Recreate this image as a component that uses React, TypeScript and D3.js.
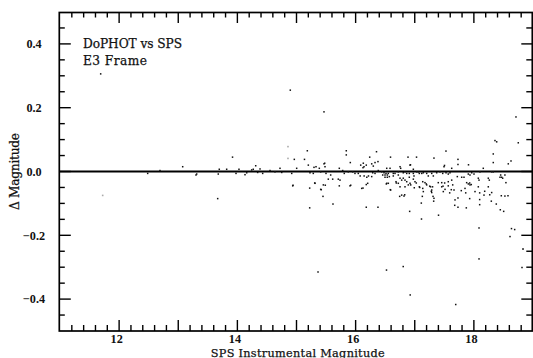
import React from "react";
import * as d3 from "d3";

// SPS instrumental magnitude of each star
const sps = [
  11.688, 14.895, 15.465, 18.712, 18.357, 18.386, 18.751, 18.328, 18.328, 18.628, 18.582, 17.528,
  15.183, 15.842, 15.842, 16.353, 16.886, 17.03, 17.325, 17.731, 17.731, 17.909, 17.503, 16.928,
  16.59, 16.238, 15.91, 15.135, 15.477, 16.378, 16.18, 16.125,
  14.941, 15.308, 15.223, 15.419, 15.487, 15.448, 15.917, 16.125, 16.18, 15.223, 15.617, 16.18,
  16.378, 16.519, 16.586, 16.688, 16.745, 16.83, 16.914, 17.026, 17.084, 17.128, 17.195, 17.253,
  17.28, 17.309, 17.32, 17.111, 17.114, 17.402, 17.478, 17.591, 17.506, 17.676, 17.731, 17.872,
  17.787, 17.862, 17.929, 18.098, 18.183, 18.268, 18.098, 18.098, 18.295, 18.379, 18.447, 18.504,
  18.464, 18.577, 18.087, 18.636, 18.69, 18.611, 18.087, 18.831, 18.814, 15.364, 16.522, 16.805,
  16.923, 17.693, 17.929, 17.956, 17.731, 17.618, 13.667,
  13.075, 13.3, 13.918, 13.694, 13.677, 13.819, 13.977, 14.027, 14.129, 14.31, 14.269, 14.343,
  14.428, 14.552, 14.636, 14.721, 14.75, 14.963, 14.919, 15.003, 14.936, 12.483, 12.691, 13.312,
  14.242, 14.158, 14.383,
  15.2, 15.296, 15.33, 15.386, 15.465, 15.482, 15.409, 15.499, 15.284, 15.228, 15.578, 15.612,
  15.707, 15.724, 15.781, 15.808, 15.876, 15.95, 15.989, 16.045, 16.086, 16.13, 16.142, 16.272,
  16.299, 16.328, 16.383, 16.077, 16.144, 16.217, 16.189, 16.272, 16.289, 16.328, 15.313, 15.454,
  15.409, 15.724, 15.905, 16.103, 16.204, 15.538, 15.736,
  17.495, 17.596, 17.567, 17.625, 16.751, 16.762, 16.92, 16.976, 17.033, 17.06, 16.526, 16.582,
  16.441, 16.48, 16.514, 16.553, 16.458, 16.497, 16.536, 16.497, 16.536, 16.57, 16.637, 16.666,
  16.637, 16.722, 16.722, 16.806, 16.835, 16.864, 16.908, 16.908, 16.976, 16.987, 17.077, 17.118,
  17.145, 17.202, 17.229, 17.287, 17.314, 17.371, 17.427, 17.473, 17.529, 16.526, 16.553, 16.683,
  16.722, 16.751, 16.779, 16.806, 16.835, 16.864, 16.92, 16.976, 17.004, 16.751, 16.835, 16.891,
  16.932, 16.593, 16.779, 16.818, 16.992, 17.077, 17.135, 17.173, 17.135, 17.145, 17.202, 17.267,
  17.301, 17.287, 17.287, 17.325, 17.398, 17.456, 17.456, 17.512, 17.567, 17.625, 17.567, 17.642,
  17.483, 17.664, 17.72, 17.681,
  18.159, 18.301, 18.328, 17.794, 17.833, 17.906, 17.934, 17.963, 18.002, 18.103, 18.075, 18.087,
  18.244, 18.261, 18.442, 18.47, 18.487, 17.878, 17.906, 17.934, 18.075, 18.244, 17.85, 18.019,
  18.171, 18.301, 18.525, 18.453, 18.525, 18.542,
];

// DoPHOT minus SPS magnitude
const delta = [
  0.306, 0.255, 0.187, 0.171, 0.097, 0.093, 0.09, 0.055, 0.028, 0.033, 0.024, 0.064,
  0.065, 0.065, 0.052, 0.062, 0.045, 0.045, 0.042, 0.038, 0.022, 0.021, 0.019, 0.021,
  0.045, 0.045, 0.028, 0.038, 0.026, 0.031, 0.02, 0.012,
  -0.043, -0.036, -0.052, -0.057, -0.043, -0.078, -0.043, -0.052, -0.041, -0.114, -0.102, -0.112,
  -0.112, -0.039, -0.057, -0.036, -0.078, -0.073, -0.125, -0.036, -0.05, -0.078, -0.039, -0.046,
  -0.062, -0.078, -0.093, -0.099, -0.149, -0.137, -0.046, -0.067, -0.036, -0.106, -0.112, -0.114,
  -0.06, -0.067, -0.085, -0.067, -0.062, -0.073, -0.088, -0.104, -0.093, -0.102, -0.12, -0.125,
  -0.076, -0.076, -0.177, -0.179, -0.182, -0.204, -0.274, -0.243, -0.301, -0.315, -0.309, -0.298,
  -0.387, -0.417, -0.036, -0.041, -0.083, -0.057, -0.085,
  0.015, -0.011, 0.045, 0.007, -0.008, 0.007, -0.006, 0.007, -0.01, 0.018, 0.007, -0.003,
  -0.006, 0.003, -0.001, 0.01, -0.003, 0.038, -0.006, 0.01, -0.045, -0.006, 0.003, -0.008,
  0.005, -0.004, 0.008,
  0.02, 0.013, 0.015, 0.01, 0.024, 0.015, -0.001, -0.006, -0.006, -0.004, -0.011, -0.024,
  -0.024, 0.01, 0.003, -0.006, -0.001, -0.001, -0.006, -0.006, 0.02, 0.026, 0.015, 0.024,
  0.017, 0.028, 0.003, -0.014, -0.014, -0.014, -0.018, -0.016, -0.004, -0.006, -0.037, -0.042,
  -0.056, -0.045, -0.045, -0.053, -0.037, -0.024, -0.027,
  0.015, -0.004, -0.008, 0.01, 0.015, 0.01, 0.02, 0.007, -0.001, -0.001, 0.01, 0.01,
  -0.001, -0.004, -0.006, -0.006, -0.011, -0.011, -0.011, -0.018, -0.018, -0.016, -0.006, -0.006,
  -0.014, -0.001, -0.011, -0.004, -0.001, -0.006, -0.006, -0.018, -0.006, -0.014, -0.006, -0.006,
  -0.004, -0.006, -0.014, -0.006, -0.014, -0.004, -0.001, -0.006, -0.004, -0.037, -0.037, -0.032,
  -0.037, -0.021, -0.027, -0.021, -0.027, -0.032, -0.037, -0.024, -0.032, -0.048, -0.048, -0.042,
  -0.042, -0.058, -0.074, -0.077, -0.051, -0.048, -0.032, -0.035, -0.053, -0.063, -0.042, -0.048,
  -0.048, -0.058, -0.066, -0.084, -0.035, -0.035, -0.048, -0.056, -0.032, -0.027, -0.045, -0.042,
  -0.063, -0.058, -0.016, -0.089,
  0.01, -0.001, -0.001, -0.018, -0.018, -0.008, -0.011, -0.004, -0.008, -0.001, -0.021, -0.027,
  -0.021, -0.027, -0.018, -0.018, -0.021, -0.035, -0.039, -0.042, -0.048, -0.048, -0.053, -0.063,
  -0.074, -0.066, -0.077, -0.011, -0.011, -0.035,
];

// faint (grey) detections
const faintSps = [11.722, 14.856, 14.856, 18.831];
const faintDelta = [-0.075, 0.078, 0.041, -0.243];

const xLabelTicks = [12, 14, 16, 18];
const yLabelTicks = [-0.4, -0.2, 0.0, 0.2, 0.4];
const xTitle = "SPS Instrumental Magnitude";
const yTitle = "Δ Magnitude";
const legendLines = ["DoPHOT vs SPS", "E3 Frame"];

const W = 533;
const H = 358;
const FL = 59.3, FR = 532.3, FT = 12.5, FB = 331;

export default function App() {
  const x = d3.scaleLinear().domain([11, 19]).range([60, 533]);
  const y = d3.scaleLinear().domain([-0.5, 0.5]).range([331, 12]);

  const xTicks: { v: number; major: boolean }[] = [];
  for (let i = 1; i < 40; i++) {
    const v = 11 + i * 0.2;
    xTicks.push({ v, major: i % 5 === 0 });
  }
  const yTicks: { v: number; major: boolean }[] = [];
  for (let i = -9; i <= 9; i++) {
    yTicks.push({ v: i * 0.05, major: i % 4 === 0 });
  }

  const fmt = (v: number) => (v < 0 ? "\u2212" : "") + Math.abs(v).toFixed(1);
  const tickStroke = { stroke: "#000", strokeWidth: 1.4 };
  const numFont = { fontFamily: "Liberation Serif", fontWeight: 700, fontSize: 12.2, fill: "#111" };
  const txtFont = { fontFamily: "DejaVu Serif", fontSize: 12.2, fill: "#111", stroke: "#111", strokeWidth: 0.25 };

  return (
    <svg width={W} height={H} style={{ position: "absolute", left: 0, top: 0, background: "#fff" }}>
      <rect x={0} y={0} width={W} height={H} fill="#fff" />
      {/* ticks */}
      {xTicks.map((t, i) => (
        <g key={"xt" + i}>
          <line x1={x(t.v)} x2={x(t.v)} y1={FB} y2={FB - (t.major ? 11 : 6)} {...tickStroke} />
          <line x1={x(t.v)} x2={x(t.v)} y1={FT} y2={FT + (t.major ? 10.5 : 5)} {...tickStroke} />
        </g>
      ))}
      {yTicks.map((t, i) => (
        <g key={"yt" + i}>
          <line x1={FL} x2={FL + (t.major ? 11.5 : 5.5)} y1={y(t.v)} y2={y(t.v)} {...tickStroke} />
          <line x1={FR} x2={FR - (t.major ? 11 : 6)} y1={y(t.v)} y2={y(t.v)} {...tickStroke} />
        </g>
      ))}
      {/* frame */}
      <rect x={FL} y={FT} width={FR - FL} height={FB - FT} fill="none" stroke="#000" strokeWidth={1.7} />
      {/* zero line */}
      <line x1={FL} x2={FR} y1={y(0)} y2={y(0)} stroke="#000" strokeWidth={2} />
      {/* points */}
      {faintSps.map((m, i) => (
        <rect key={"f" + i} x={x(m) - 0.8} y={y(faintDelta[i]) - 0.8} width={1.6} height={1.6} fill="#aaa" />
      ))}
      {sps.map((m, i) => (
        <rect key={"p" + i} x={x(m) - 0.75} y={y(delta[i]) - 0.75} width={1.5} height={1.5} fill="#111" />
      ))}
      {/* tick labels */}
      {xLabelTicks.map((v) => (
        <text key={"xl" + v} x={x(v) - 2.5} y={343} textAnchor="middle" {...numFont}>
          {v}
        </text>
      ))}
      {yLabelTicks.map((v) => (
        <text key={"yl" + v} x={34} y={y(v) + 4.3} textAnchor="middle" {...numFont}>
          {fmt(v)}
        </text>
      ))}
      {/* titles */}
      <text
        x={297.7}
        y={356.5}
        textAnchor="middle"
        textLength={174}
        lengthAdjust="spacing"
        {...txtFont}
        fontSize={11.3}
      >
        {xTitle}
      </text>
      <text
        transform={`translate(18.5, ${y(0)}) rotate(-90)`}
        x={0}
        y={0}
        textAnchor="middle"
        textLength={77}
        lengthAdjust="spacing"
        {...txtFont}
      >
        {yTitle}
      </text>
      {/* legend */}
      <text x={83} y={48} textLength={99} lengthAdjust="spacing" {...txtFont}>
        {legendLines[0]}
      </text>
      <text x={83} y={65} textLength={64} lengthAdjust="spacing" {...txtFont}>
        {legendLines[1]}
      </text>
    </svg>
  );
}
